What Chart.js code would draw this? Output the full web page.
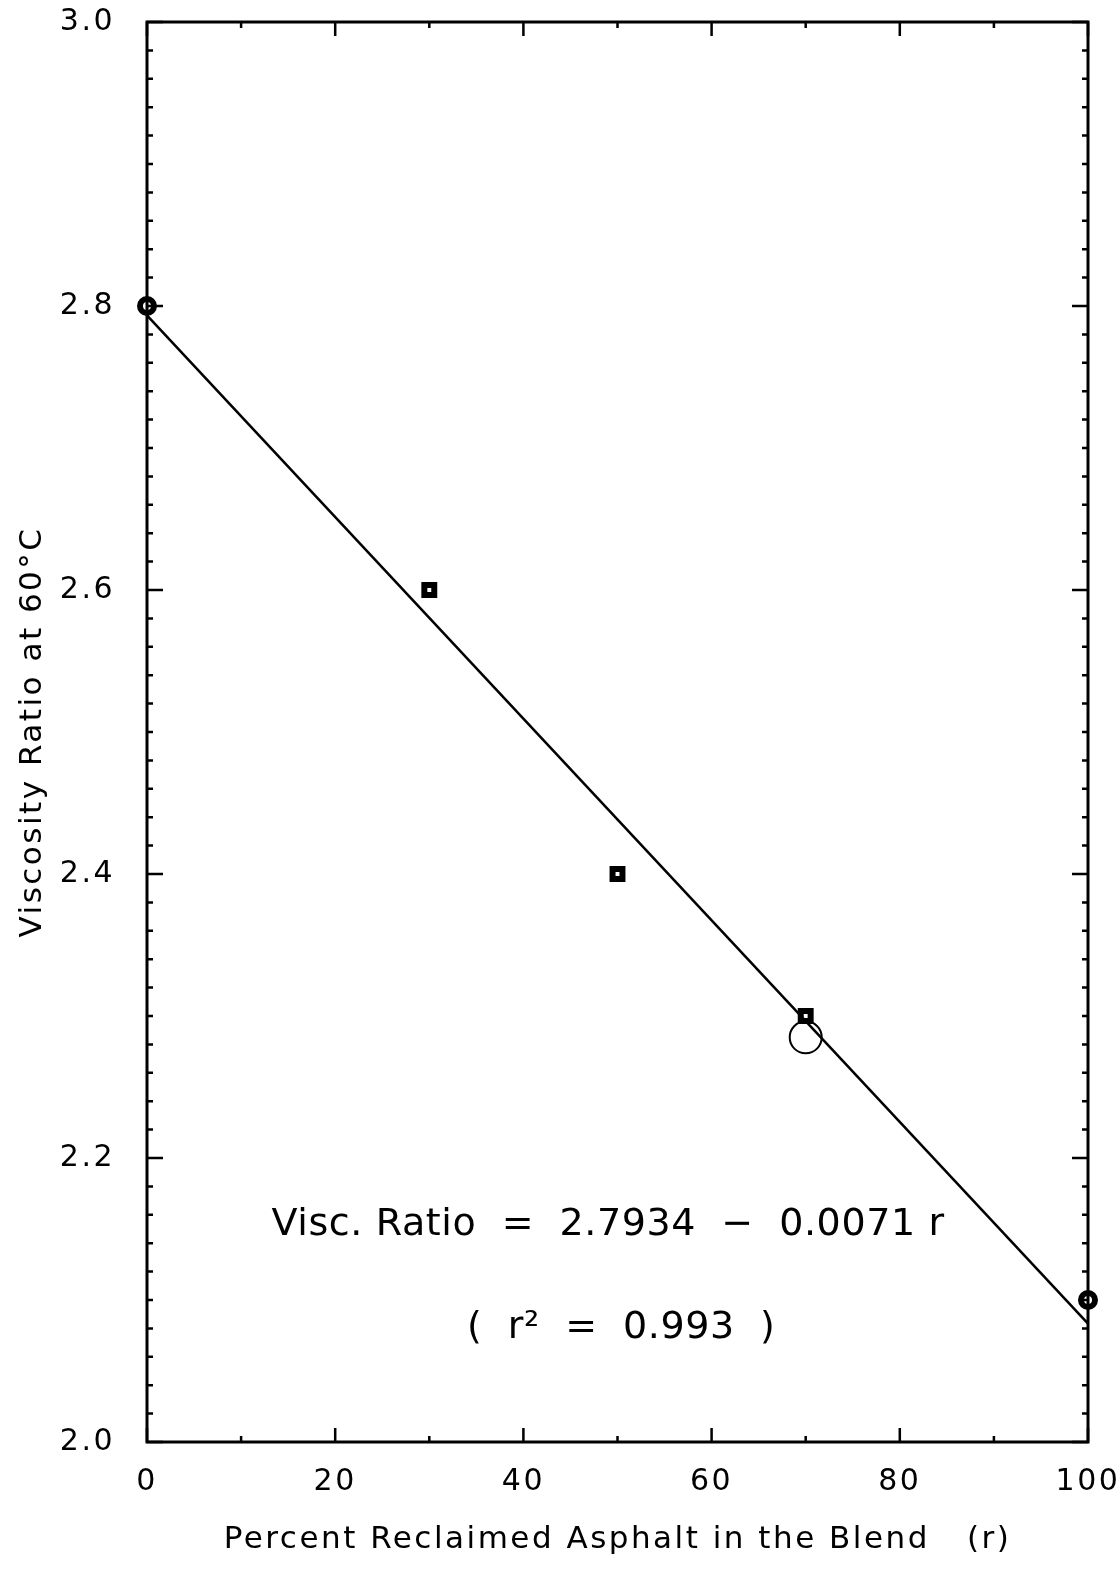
<!DOCTYPE html>
<html>
<head>
<meta charset="utf-8">
<script src="https://cdn.jsdelivr.net/npm/chart.js@4"></script>
<style>
  body { margin: 0; background: #fff; }
  #wrap { width: 1120px; height: 1570px; }
</style>
</head>
<body>
<div id="wrap"><canvas id="visc"></canvas></div>
<script>
// measured blends
const blendPct = [0, 30, 50, 70, 100];
const viscRatio = [2.8, 2.6, 2.4, 2.3, 2.1];
const markerStyle = ['circle', 'rect', 'rect', 'rect', 'circle'];

// odd point (open circle near the 70% blend)
const extraPct = [70];
const extraRatio = [2.285];

// least squares fit: Visc. Ratio = 2.7934 - 0.0071 r
const fitIntercept = 2.7934;
const fitSlope = -0.0071;
const fitR2 = 0.993;
const fitX = [0, 100];
const fitY = [2.7934, 2.0834];

const xTicks = [0, 20, 40, 60, 80, 100];
const yTicks = [2.0, 2.2, 2.4, 2.6, 2.8, 3.0];

const FONT = "'DejaVu Sans', 'Liberation Sans', sans-serif";

// old plotter lettering is spaced out a bit
const spacedText = {
  id: 'spacedText',
  beforeDraw(chart) { chart.ctx.letterSpacing = '2.5px'; },
  afterDraw(chart) { chart.ctx.letterSpacing = '0px'; }
};

// frame on all four sides with inward ticks, plus the fit equation
const frameTicks = {
  id: 'frameTicks',
  afterDatasetsDraw(chart) {
    const { ctx, chartArea: a, scales: { x, y } } = chart;
    ctx.save();
    ctx.strokeStyle = '#000';
    ctx.lineWidth = 3;
    ctx.strokeRect(a.left, a.top, a.right - a.left, a.bottom - a.top);

    ctx.lineWidth = 2.5;
    ctx.beginPath();
    for (let i = 0; i <= 50; i++) {
      const v = 2 + i * 0.02;
      const py = y.getPixelForValue(v);
      const len = i % 10 === 0 ? 16 : 6;
      ctx.moveTo(a.left, py); ctx.lineTo(a.left + len, py);
      ctx.moveTo(a.right, py); ctx.lineTo(a.right - len, py);
    }
    for (let v = 0; v <= 100; v += 10) {
      const px = x.getPixelForValue(v);
      const len = v % 20 === 0 ? 14 : 6;
      ctx.moveTo(px, a.bottom); ctx.lineTo(px, a.bottom - len);
      ctx.moveTo(px, a.top); ctx.lineTo(px, a.top + len);
    }
    ctx.stroke();

    ctx.fillStyle = '#000';
    ctx.textAlign = 'center';
    ctx.textBaseline = 'middle';
    ctx.letterSpacing = '0.6px';
    ctx.font = '38px ' + FONT;
    const eq = 'Visc. Ratio  =  ' + fitIntercept.toFixed(4) + '  \u2212  ' +
      Math.abs(fitSlope).toFixed(4) + ' r';
    ctx.fillText(eq, x.getPixelForValue(49), y.getPixelForValue(2.153));
    ctx.fillText('(  r\u00B2  =  ' + fitR2.toFixed(3) + '  )',
      x.getPixelForValue(50.4), y.getPixelForValue(2.08));
    ctx.restore();
  }
};

function noEdgePadding(s) {
  s.paddingTop = 0; s.paddingBottom = 0;
  s.paddingLeft = 0; s.paddingRight = 0;
}

new Chart(document.getElementById('visc'), {
  type: 'scatter',
  data: {
    datasets: [
      {
        type: 'line',
        data: fitX.map((v, i) => ({ x: v, y: fitY[i] })),
        borderColor: '#000',
        borderWidth: 2.5,
        pointRadius: 0,
        fill: false
      },
      {
        data: blendPct.map((v, i) => ({ x: v, y: viscRatio[i] })),
        pointStyle: markerStyle,
        pointRadius: 7,
        borderColor: '#000',
        borderWidth: 6,
        backgroundColor: '#fff',
        clip: false
      },
      {
        data: extraPct.map((v, i) => ({ x: v, y: extraRatio[i] })),
        pointStyle: 'circle',
        pointRadius: 16,
        borderColor: '#000',
        borderWidth: 2,
        backgroundColor: 'rgba(0,0,0,0)',
        clip: false
      }
    ]
  },
  options: {
    responsive: true,
    maintainAspectRatio: false,
    animation: false,
    layout: { padding: { top: 22, right: 32, left: 0, bottom: 0 } },
    plugins: { legend: { display: false }, tooltip: { enabled: false } },
    scales: {
      x: {
        type: 'linear',
        min: 0, max: 100,
        afterFit(s) { s.height = 128; noEdgePadding(s); },
        afterBuildTicks(s) { s.ticks = xTicks.map(v => ({ value: v })); },
        grid: { display: false, drawTicks: false },
        border: { display: false },
        ticks: {
          padding: 22,
          color: '#000',
          font: { family: FONT, size: 30 },
          maxRotation: 0
        },
        title: {
          display: true,
          text: 'Percent Reclaimed Asphalt in the Blend   (r)',
          color: '#000',
          font: { family: FONT, size: 31 },
          padding: { bottom: 11, top: 0 }
        }
      },
      y: {
        type: 'linear',
        min: 2, max: 3,
        afterFit(s) { s.width = 147; noEdgePadding(s); },
        afterBuildTicks(s) { s.ticks = yTicks.map(v => ({ value: v })); },
        grid: { display: false, drawTicks: false },
        border: { display: false },
        ticks: {
          padding: 32,
          color: '#000',
          font: { family: FONT, size: 30 },
          callback: v => v.toFixed(1)
        },
        title: {
          display: true,
          text: 'Viscosity Ratio at 60\u00B0C',
          color: '#000',
          font: { family: FONT, size: 31 },
          padding: { top: 14, bottom: 0 }
        }
      }
    }
  },
  plugins: [spacedText, frameTicks]
});
</script>
</body>
</html>
